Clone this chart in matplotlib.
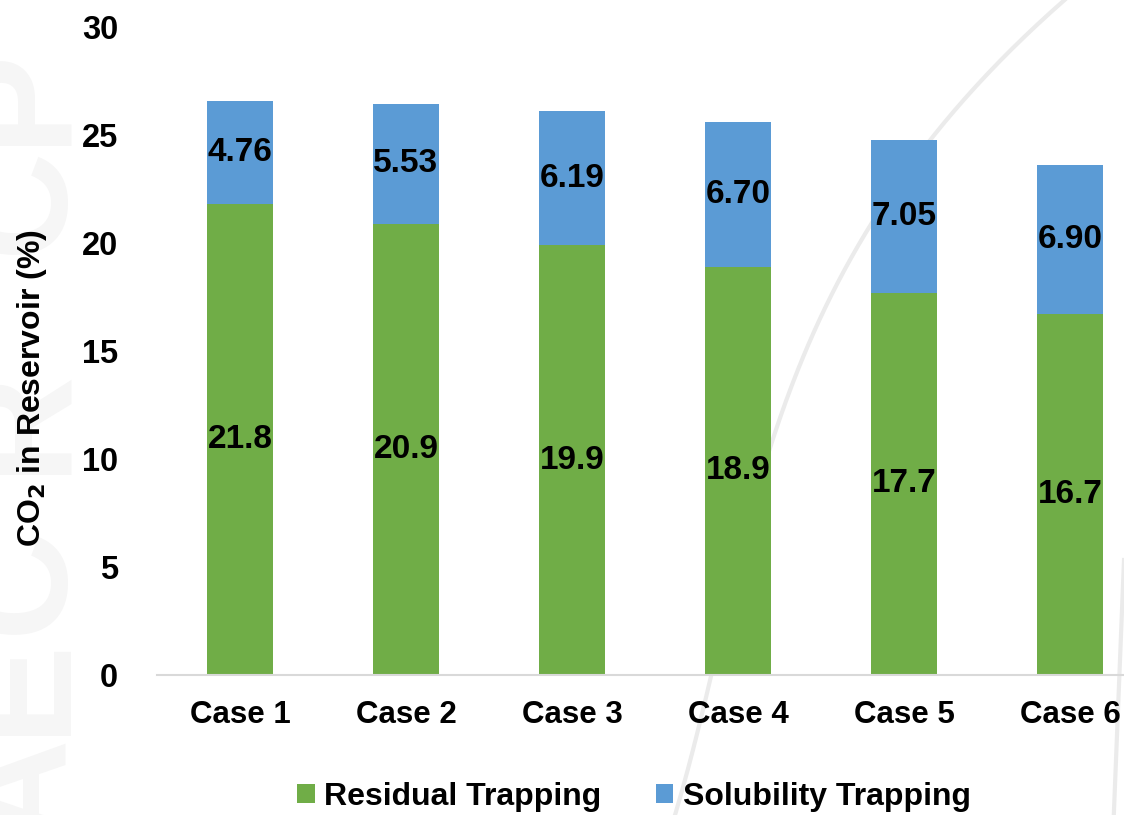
import numpy as np
import matplotlib.pyplot as plt
from matplotlib.lines import Line2D

plt.rcParams['font.family'] = ['Liberation Sans', 'DejaVu Sans']
plt.rcParams['font.weight'] = 'bold'

cases = ['Case 1', 'Case 2', 'Case 3', 'Case 4', 'Case 5', 'Case 6']
residual = [21.8, 20.9, 19.9, 18.9, 17.7, 16.7]
solubility = [4.76, 5.53, 6.19, 6.70, 7.05, 6.90]
residual_txt = ['21.8', '20.9', '19.9', '18.9', '17.7', '16.7']
solubility_txt = ['4.76', '5.53', '6.19', '6.70', '7.05', '6.90']

green = '#70AD47'
blue = '#5B9BD5'

W, H = 1124, 815
fig = plt.figure(figsize=(W / 100, H / 100), dpi=100)

# faint watermark behind the chart
for ch, yc in [('A', 790), ('E', 685), ('C', 580), ('R', 420), ('C', 200), ('P', 95)]:
    fig.text(62 / W, 1 - yc / H, ch, rotation=90, rotation_mode='anchor',
             ha='center', va='baseline', fontsize=108, fontweight='bold',
             color='#f6f6f6', zorder=0)
ys = np.array([0, 200, 400, 560, 673, 815])
xs = np.array([1067, 877, 800, 735, 706, 678])
c = np.polyfit(ys, xs, 3)
yy = np.linspace(0, 815, 200)
fig.add_artist(Line2D(np.polyval(c, yy) / W, 1 - yy / H, color='#ebebeb', lw=3, zorder=0))
yy2 = np.linspace(560, 815, 60)
fig.add_artist(Line2D((1124 - (yy2 - 560) * 0.04) / W, 1 - yy2 / H, color='#ebebeb', lw=3, zorder=0))

ax = fig.add_axes([157 / W, 1 - 675 / H, (1153 - 157) / W, 648 / H])
ax.set_zorder(2)
ax.patch.set_alpha(0)
x = np.arange(len(cases))
b1 = ax.bar(x, residual, width=0.4, color=green, label='Residual Trapping', zorder=2)
b2 = ax.bar(x, solubility, width=0.4, bottom=residual, color=blue,
            label='Solubility Trapping', zorder=2)

for i in range(len(cases)):
    ax.text(x[i], residual[i] / 2, residual_txt[i], ha='center', va='center',
            fontsize=24, fontweight='bold', zorder=3)
    ax.text(x[i], residual[i] + solubility[i] / 2, solubility_txt[i], ha='center',
            va='center', fontsize=24, fontweight='bold', zorder=3)

ax.set_ylim(0, 30)
ax.set_xlim(-0.5, 5.5)
ax.set_yticks(range(0, 31, 5))
ax.set_xticks(x)
ax.set_xticklabels(cases)
ax.tick_params(axis='both', length=0)
ax.tick_params(axis='y', pad=28, labelsize=23.5)
ax.tick_params(axis='x', pad=18, labelsize=22.5)
for s in ['top', 'right', 'left']:
    ax.spines[s].set_visible(False)
ax.spines['bottom'].set_color('#d9d9d9')
ax.spines['bottom'].set_linewidth(1.5)
ax.spines['bottom'].set_clip_on(False)

ax.set_ylabel('CO$_\\mathbf{2}$ in Reservoir (%)', fontsize=23, fontweight='bold')
ax.yaxis.set_label_coords(-108 / (1153 - 157), 0.443)

leg = fig.legend(handles=[b1, b2], loc='center', bbox_to_anchor=(634 / W, 1 - 797 / H),
                 ncol=2, frameon=False, fontsize=23, handlelength=0.55, handleheight=0.55,
                 handletextpad=0.3, columnspacing=1.7)
leg.set_zorder(3)

fig.savefig('out.png', dpi=100)
